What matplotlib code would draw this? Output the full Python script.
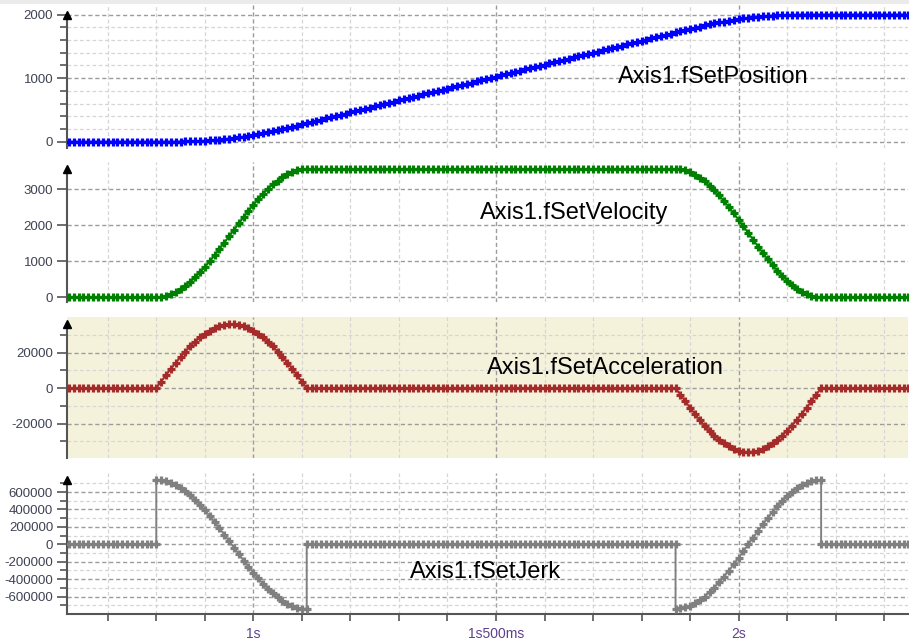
import numpy as np
import matplotlib
matplotlib.use('Agg')
import matplotlib.pyplot as plt
from matplotlib.patches import Rectangle

plt.rcParams['font.family'] = ['Liberation Sans', 'DejaVu Sans']
plt.rcParams['axes.unicode_minus'] = False

# scope samples, one every 10 ms from 0.62 s to 2.35 s
t = np.round(np.arange(62, 236) * 0.01, 2)

position = [
    # 0.62 - 0.79
    0, 0, 0, 0, 0, 0, 0, 0, 0, 0,
    0, 0, 0, 0, 0, 0, 0, 0,
    # 0.80 - 1.11
    0, 0, 0, 0, 1, 2, 3, 5, 8, 11, 15, 20, 26, 32, 40, 48,
    58, 68, 79, 92, 105, 119, 133, 149, 165, 182, 199, 217, 235, 254, 272, 291,
    # 1.12 - 1.87
    310, 329, 347, 366, 385, 404, 423, 441, 460, 479,
    498, 517, 535, 554, 573, 592, 610, 629, 648, 667,
    686, 704, 723, 742, 761, 779, 798, 817, 836, 855,
    873, 892, 911, 930, 948, 967, 986, 1005, 1024, 1042,
    1061, 1080, 1099, 1117, 1136, 1155, 1174, 1193, 1211, 1230,
    1249, 1268, 1286, 1305, 1324, 1343, 1362, 1380, 1399, 1418,
    1437, 1455, 1474, 1493, 1512, 1531, 1549, 1568, 1587, 1606,
    1624, 1643, 1662, 1681, 1700, 1718,
    # 1.88 - 2.17
    1737, 1756, 1774, 1792, 1810, 1828, 1844, 1860, 1876, 1890,
    1904, 1916, 1928, 1939, 1949, 1958, 1966, 1973, 1979, 1984,
    1988, 1992, 1994, 1997, 1998, 1999, 2000, 2000, 2000, 2000,
    # 2.18 - 2.35
    2000, 2000, 2000, 2000, 2000, 2000, 2000, 2000, 2000, 2000,
    2000, 2000, 2000, 2000, 2000, 2000, 2000, 2000,
]

velocity = [
    # 0.62 - 0.79
    0, 0, 0, 0, 0, 0, 0, 0, 0, 0,
    0, 0, 0, 0, 0, 0, 0, 0,
    # 0.80 - 1.11
    0, 9, 37, 82, 145, 224, 320, 430, 555, 692, 841, 999, 1165, 1338, 1515, 1695,
    1875, 2055, 2232, 2405, 2571, 2729, 2878, 3015, 3140, 3250, 3346, 3425, 3488, 3533, 3561, 3570,
    # 1.12 - 1.86
    3570, 3570, 3570, 3570, 3570, 3570, 3570, 3570, 3570, 3570, 3570, 3570, 3570, 3570, 3570,
    3570, 3570, 3570, 3570, 3570, 3570, 3570, 3570, 3570, 3570, 3570, 3570, 3570, 3570, 3570,
    3570, 3570, 3570, 3570, 3570, 3570, 3570, 3570, 3570, 3570, 3570, 3570, 3570, 3570, 3570,
    3570, 3570, 3570, 3570, 3570, 3570, 3570, 3570, 3570, 3570, 3570, 3570, 3570, 3570, 3570,
    3570, 3570, 3570, 3570, 3570, 3570, 3570, 3570, 3570, 3570, 3570, 3570, 3570, 3570, 3570,
    # 1.87 - 2.17
    3570, 3560, 3531, 3483, 3416, 3331, 3229, 3111, 2979, 2834, 2678, 2511, 2337, 2156, 1972, 1785,
    1598, 1414, 1233, 1059, 893, 736, 591, 459, 341, 239, 154, 87, 39, 10, 0,
    # 2.18 - 2.35
    0, 0, 0, 0, 0, 0, 0, 0, 0, 0,
    0, 0, 0, 0, 0, 0, 0, 0,
]

acceleration = [
    # 0.62 - 0.79
    0, 0, 0, 0, 0, 0, 0, 0, 0, 0,
    0, 0, 0, 0, 0, 0, 0, 0,
    # 0.80 - 1.11
    0, 3640, 7250, 10780, 14200, 17470, 20570, 23450, 26090, 28470, 30550, 32320, 33760, 34850, 35580, 35950,
    35950, 35580, 34850, 33760, 32320, 30550, 28470, 26090, 23450, 20570, 17470, 14200, 10780, 7250, 3640, 0,
    # 1.12 - 1.86
    0, 0, 0, 0, 0, 0, 0, 0, 0, 0,
    0, 0, 0, 0, 0, 0, 0, 0, 0, 0,
    0, 0, 0, 0, 0, 0, 0, 0, 0, 0,
    0, 0, 0, 0, 0, 0, 0, 0, 0, 0,
    0, 0, 0, 0, 0, 0, 0, 0, 0, 0,
    0, 0, 0, 0, 0, 0, 0, 0, 0, 0,
    0, 0, 0, 0, 0, 0, 0, 0, 0, 0,
    0, 0, 0, 0, 0,
    # 1.87 - 2.17
    0, -3760, -7480, -11120, -14640, -18000, -21160, -24090, -26750, -29120, -31180, -32890, -34240, -35210, -35800, -36000,
    -35800, -35210, -34240, -32890, -31180, -29120, -26750, -24090, -21160, -18000, -14640, -11120, -7480, -3760, 0,
    # 2.18 - 2.35
    0, 0, 0, 0, 0, 0, 0, 0, 0, 0,
    0, 0, 0, 0, 0, 0, 0, 0,
]

jerk = [
    # 0.62 - 0.79
    0, 0, 0, 0, 0, 0, 0, 0, 0, 0,
    0, 0, 0, 0, 0, 0, 0, 0,
    # 0.80 - 1.10
    740000, 736200, 724900, 706100, 680000, 647000, 607500, 561600, 509800, 452900, 391500,
    325900, 257000, 185500, 112100, 37500, -37500, -112100, -185500, -257000, -325900,
    -391500, -452900, -509800, -561600, -607500, -647000, -680000, -706100, -724900, -736200,
    # 1.11 - 1.86
    0, 0, 0, 0, 0, 0, 0, 0, 0, 0,
    0, 0, 0, 0, 0, 0, 0, 0, 0, 0,
    0, 0, 0, 0, 0, 0, 0, 0, 0, 0,
    0, 0, 0, 0, 0, 0, 0, 0, 0, 0,
    0, 0, 0, 0, 0, 0, 0, 0, 0, 0,
    0, 0, 0, 0, 0, 0, 0, 0, 0, 0,
    0, 0, 0, 0, 0, 0, 0, 0, 0, 0,
    0, 0, 0, 0, 0, 0,
    # 1.87 - 2.16
    -740000, -735900, -723800, -703800, -676000, -640800, -598700, -549900, -495100, -435000,
    -370000, -301000, -228700, -153800, -77300, 0, 77300, 153800, 228700, 301000,
    370000, 435000, 495100, 549900, 598700, 640800, 676000, 703800, 723800, 735900,
    # 2.17 - 2.35
    0, 0, 0, 0, 0, 0, 0, 0, 0, 0,
    0, 0, 0, 0, 0, 0, 0, 0, 0,
]

# the jerk steps: time of the step and the value just before it
jump_t = [0.80, 1.11, 1.87, 2.17]
jerk_before_jump = [0, -740000, 0, 740000]

x_ticks = [1.0, 1.5, 2.0]
x_labels = ['1s', '1s500ms', '2s']
x_minor = np.round(np.arange(7, 24) * 0.1, 1)

names = ['Axis1.fSetPosition', 'Axis1.fSetVelocity',
         'Axis1.fSetAcceleration', 'Axis1.fSetJerk']
colors = ['#0000ff', '#008000', '#a52a2a', '#808080']

y_ticks = [
    [0, 1000, 2000],
    [0, 1000, 2000, 3000],
    [-20000, 0, 20000],
    [-600000, -400000, -200000, 0, 200000, 400000, 600000],
]
y_minor = [
    [200, 400, 600, 800, 1200, 1400, 1600, 1800],
    [],
    [-30000, -10000, 10000, 30000],
    [-700000, -500000, -300000, -100000, 100000, 300000, 500000, 700000],
]
y_lims = [(-100, 2150), (-130, 3765), (-39400, 40000), (-799000, 818000)]

W, H = 909, 641
fig = plt.figure(figsize=(W / 100, H / 100), dpi=100)
fig.add_artist(Rectangle((0, 1 - 4 / H), 1, 4 / H, transform=fig.transFigure,
                         color='#ebebeb', lw=0))

# panel boxes in pixels: left, top, right, bottom
boxes = [(67, 5, 908, 148), (67, 162, 908, 302), (67, 317, 908, 458), (67, 473, 908, 614)]
# label anchor: left x, baseline y (pixels)
label_pos = [(618, 83), (480, 219), (487, 374), (410, 578)]

AXIS_GRAY = '#555555'
TICK_TEXT = '#3e4252'

series = [position, velocity, acceleration, jerk]
for i, (x0, y0, x1, y1) in enumerate(boxes):
    ax = fig.add_axes([x0 / W, 1 - y1 / H, (x1 - x0) / W, (y1 - y0) / H])
    ax.set_xlim(0.616, 2.349)
    ax.set_ylim(*y_lims[i])
    ax.set_axisbelow(True)
    if i == 2:
        ax.set_facecolor('#f5f2dc')

    for s in ['top', 'right', 'bottom']:
        ax.spines[s].set_visible(False)
    ax.spines['left'].set_color(AXIS_GRAY)
    ax.spines['left'].set_linewidth(1.5)
    ymax = max(series[i])
    ax.spines['left'].set_bounds(y_lims[i][0], ymax)
    ax.plot(0, ymax, marker='^', color='black', ms=6, transform=ax.get_yaxis_transform(),
            clip_on=False, zorder=5)

    ax.set_yticks(y_ticks[i], [str(v) for v in y_ticks[i]])
    ax.set_yticks(y_minor[i], minor=True)
    ax.tick_params(axis='y', which='major', length=7, width=1.2, color=AXIS_GRAY,
                   labelcolor=TICK_TEXT, labelsize=9.5, pad=3)
    ax.tick_params(axis='y', which='minor', length=5, width=1.2, color=AXIS_GRAY)

    ax.set_xticks(x_ticks, x_labels)
    ax.set_xticks(x_minor, minor=True)
    if i < 3:
        ax.tick_params(axis='x', which='both', bottom=False, labelbottom=False)
    else:
        ax.spines['bottom'].set_visible(True)
        ax.spines['bottom'].set_color(AXIS_GRAY)
        ax.spines['bottom'].set_linewidth(1.5)
        ax.tick_params(axis='x', which='both', length=5, width=1.2, color=AXIS_GRAY,
                       labelcolor='#5e3f8c', labelsize=10, pad=4)

    ax.grid(True, which='major', color='#9c9c9c', linestyle=(0, (3, 2)), linewidth=1.0)
    ax.grid(True, which='minor', color='#d6d6d6', linestyle=(0, (3, 2)), linewidth=0.9)

    if i == 3:
        idx = np.searchsorted(t, jump_t)
        xs = np.insert(t, idx, t[idx])
        ys = np.insert(np.array(jerk, dtype=float), idx, jerk_before_jump)
    else:
        xs, ys = t, series[i]
    ax.plot(xs, ys, color=colors[i], lw=1.4, zorder=3)
    ax.plot(xs, ys, color=colors[i], lw=0, marker='+', ms=6, mew=2.3, zorder=3)

    lx, ly = label_pos[i]
    fig.text(lx / W, 1 - ly / H, names[i], fontsize=17, color='black', va='baseline')

fig.savefig('out.png', dpi=100)
